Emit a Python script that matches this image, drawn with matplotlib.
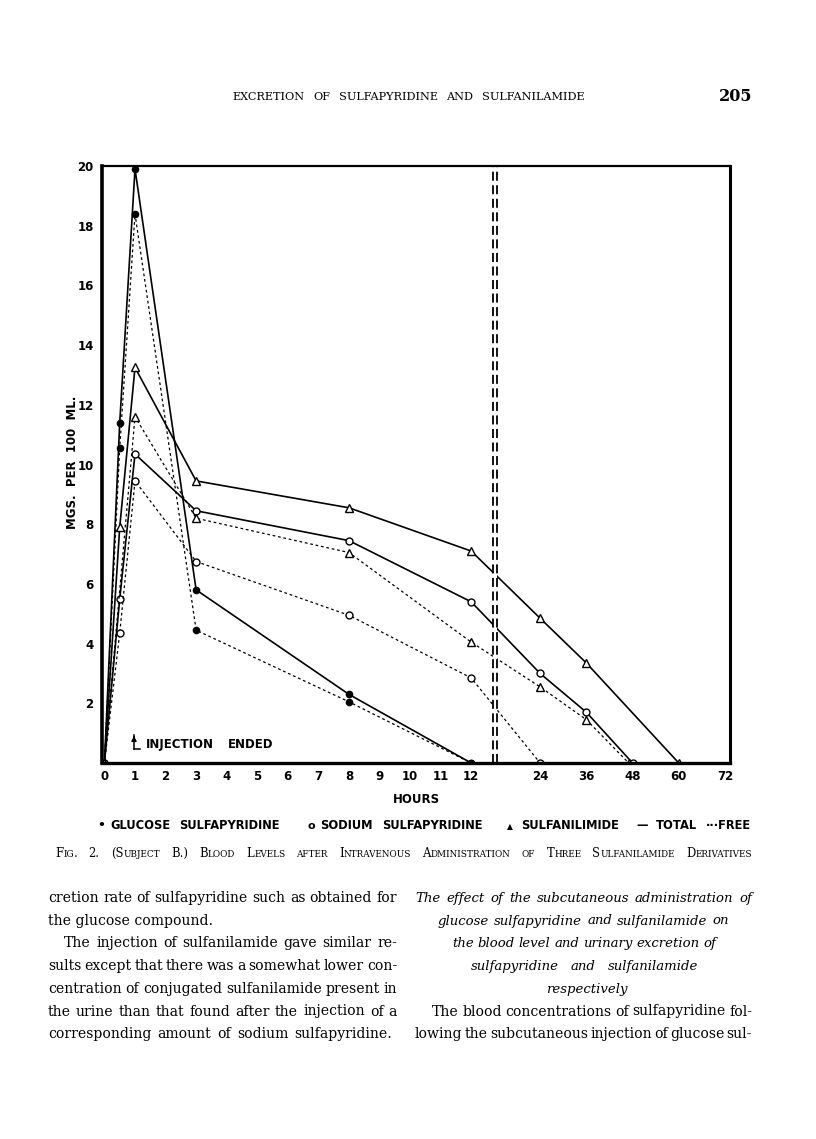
import numpy as np
import matplotlib
matplotlib.use("Agg")
import matplotlib.pyplot as plt
from matplotlib.lines import Line2D

W, H = 816, 1139

# ---- data (hours, mgs per 100 ml) ----
x_ticks = [0, 1, 2, 3, 4, 5, 6, 7, 8, 9, 10, 11, 12, 24, 36, 48, 60, 72]
y_ticks = [2, 4, 6, 8, 10, 12, 14, 16, 18, 20]

glucose_total_h = [0, 0.5, 1, 3, 8, 12]
glucose_total_v = [0, 11.4, 19.9, 5.8, 2.3, 0]
glucose_free_h = [0, 0.5, 1, 3, 8, 12]
glucose_free_v = [0, 10.55, 18.4, 4.45, 2.05, 0]

sodium_total_h = [0, 0.5, 1, 3, 8, 12, 24, 36, 48]
sodium_total_v = [0, 5.5, 10.35, 8.45, 7.45, 5.4, 3.0, 1.7, 0]
sodium_free_h = [0, 0.5, 1, 3, 8, 12, 24]
sodium_free_v = [0, 4.35, 9.45, 6.75, 4.95, 2.85, 0]

sulfa_total_h = [0, 0.5, 1, 3, 8, 12, 24, 36, 60]
sulfa_total_v = [0, 7.9, 13.25, 9.45, 8.55, 7.1, 4.85, 3.35, 0]
sulfa_free_h = [0, 1, 3, 8, 12, 24, 36, 47]
sulfa_free_v = [0, 11.6, 8.2, 7.05, 4.05, 2.55, 1.45, 0]

# broken time axis: hourly up to 12, then 12-hour steps squeezed
anchor_h = [-12, 0, 12, 24, 96]
anchor_p = [-367, 0, 367, 436, 713.5]


def fwd(h):
    return np.interp(h, anchor_h, anchor_p)


def inv(p):
    return np.interp(p, anchor_p, anchor_h)


fig = plt.figure(figsize=(W / 100, H / 100), dpi=100)
renderer = fig.canvas.get_renderer()

ax = fig.add_axes([102 / W, 1 - 763 / H, 628 / W, 597 / H])
ax.set_xscale('function', functions=(fwd, inv))
ax.set_xlim(-0.08, 73.3)
ax.set_ylim(0, 20)

solid = dict(color='black', lw=1.2, zorder=2)
dotted = dict(color='black', lw=0.9, ls=(0, (2.2, 2.2)), zorder=2)
dot_m = dict(marker='o', ms=4.5, mfc='black', mec='black')
circ_m = dict(marker='o', ms=5, mfc='white', mec='black', mew=1)
tri_m = dict(marker='^', ms=5.5, mfc='white', mec='black', mew=1)

ax.plot(glucose_total_h, glucose_total_v, **solid, **dot_m)
ax.plot(glucose_free_h, glucose_free_v, **dotted, **dot_m)
ax.plot(sodium_total_h, sodium_total_v, **solid, **circ_m)
ax.plot(sodium_free_h, sodium_free_v, **dotted, **circ_m)
ax.plot(sulfa_total_h, sulfa_total_v, **solid, **tri_m)
ax.plot(sulfa_free_h, sulfa_free_v, **dotted, **tri_m)

# axis break between 12 and 24 hours
ax.axvspan(15.74, 16.57, color='white', zorder=2.2, lw=0)
for xb in (15.74, 16.57):
    ax.axvline(xb, color='black', lw=1.3, ls=(0, (5, 2.5)), zorder=2.3)

for side, lw in (('left', 2.6), ('bottom', 2.4), ('top', 1.6), ('right', 2.2)):
    ax.spines[side].set_linewidth(lw)

tick_font = dict(family='DejaVu Sans', weight='bold', size=8.5)
ax.set_xticks(x_ticks)
ax.set_xticklabels([str(t) for t in x_ticks], fontdict=tick_font)
ax.set_yticks(y_ticks)
ax.set_yticklabels([str(t) for t in y_ticks], fontdict=tick_font)
ax.tick_params(length=0)
ax.tick_params(axis='x', pad=5)
ax.tick_params(axis='y', pad=6)


def put(x, y, s, **kw):
    return fig.text(x / W, 1 - y / H, s, **kw)


def width(t):
    return t.get_window_extent(renderer).width


def justify(x0, x1, y, s, size, **kw):
    words = s.split()
    ts = [put(x0, y, w, fontsize=size, va='baseline', **kw) for w in words]
    ws = [width(t) for t in ts]
    gap = (x1 - x0 - sum(ws)) / max(len(words) - 1, 1)
    x = x0
    for t, w in zip(ts, ws):
        t.set_x(x / W)
        x += w + gap


def smallcaps(x0, x1, y, s, size, **kw):
    words = []
    for word in s.split():
        runs = []
        for ch in word:
            big = not ch.islower()
            if runs and runs[-1][1] == big:
                runs[-1][0] += ch
            else:
                runs.append([ch, big])
        words.append([put(x0, y, r.upper(), fontsize=size if big else size * 0.76,
                          va='baseline', **kw) for r, big in runs])
    ws = [[width(t) for t in parts] for parts in words]
    gap = (x1 - x0 - sum(sum(w) for w in ws)) / (len(words) - 1)
    x = x0
    for parts, pw in zip(words, ws):
        for t, w in zip(parts, pw):
            t.set_x(x / W)
            x += w
        x += gap


sans = dict(family='DejaVu Sans', weight='bold')
serif = dict(family='DejaVu Serif')
italic = dict(family='DejaVu Serif', style='italic')

# chart labels
put(416, 803, 'HOURS', fontsize=8.5, ha='center', va='baseline', **sans)
put(72, 462, 'MGS.  PER  100  ML.', fontsize=8.5, rotation=90, ha='center', va='center', **sans)
justify(146, 273, 748, 'INJECTION ENDED', 8.5, **sans)
fig.add_artist(Line2D([134 / W, 134 / W], [1 - 749 / H, 1 - 735 / H], color='black', lw=1.1))
fig.add_artist(Line2D([134 / W, 140 / W], [1 - 749 / H, 1 - 749 / H], color='black', lw=1.1))
ax.annotate('', xy=(134, H - 733), xytext=(134, H - 740), xycoords='figure pixels',
            textcoords='figure pixels',
            arrowprops=dict(arrowstyle='-|>', color='black', lw=1.1, mutation_scale=7))

# legend line
put(97, 829, '\u2022', fontsize=9, va='baseline', **sans)
justify(110, 280, 829, 'GLUCOSE  SULFAPYRIDINE', 8.3, **sans)
put(308, 829, 'o', fontsize=8, va='baseline', **sans)
justify(320, 483, 829, 'SODIUM  SULFAPYRIDINE', 8.3, **sans)
put(507, 829, '\u25b2', fontsize=5.5, va='baseline', **sans)
justify(521, 627, 829, 'SULFANILIMIDE', 8.3, **sans)
justify(636, 751, 829, '\u2014 TOTAL \u00b7\u00b7\u00b7FREE', 8.3, **sans)

# running head and caption
justify(232, 585, 100, 'EXCRETION OF SULFAPYRIDINE AND SULFANILAMIDE', 8.1, **serif)
put(752, 101, '205', fontsize=11.5, ha='right', va='baseline', weight='bold', **serif)
smallcaps(55, 752, 857, 'Fig. 2. (Subject B.) Blood Levels after Intravenous '
          'Administration of Three Sulfanilamide Derivatives', 8.4, **serif)

# body text, two columns
base = [902, 924.5, 947, 970, 993, 1015.5, 1038]
roman_size = 10.05
italic_size = 9.5
left_lines = [
    (48, 397, 'cretion rate of sulfapyridine such as obtained for'),
    (48, None, 'the glucose compound.'),
    (64, 397, 'The injection of sulfanilamide gave similar re-'),
    (48, 397, 'sults except that there was a somewhat lower con-'),
    (48, 397, 'centration of conjugated sulfanilamide present in'),
    (48, 397, 'the urine than that found after the injection of a'),
    (48, 392, 'corresponding amount of sodium sulfapyridine.'),
]
for y, (x0, x1, s) in zip(base, left_lines):
    if x1 is None:
        put(x0, y, s, fontsize=roman_size, va='baseline', **serif)
    else:
        justify(x0, x1, y, s, roman_size, **serif)

heading = [
    (415, 752, 'The effect of the subcutaneous administration of'),
    (438, 729, 'glucose sulfapyridine and sulfanilamide on'),
    (452, 716, 'the blood level and urinary excretion of'),
    (471, 698, 'sulfapyridine and sulfanilamide'),
    (546, 622, 'respectively'),
]
for y, (x0, x1, s) in zip(base, heading):
    justify(x0, x1, y, s, italic_size, **italic)

right_lines = [
    (432, 752, 'The blood concentrations of sulfapyridine fol-'),
    (415, 752, 'lowing the subcutaneous injection of glucose sul-'),
]
for y, (x0, x1, s) in zip(base[5:], right_lines):
    justify(x0, x1, y, s, roman_size, **serif)

fig.savefig('out.png', dpi=100, facecolor='white')
